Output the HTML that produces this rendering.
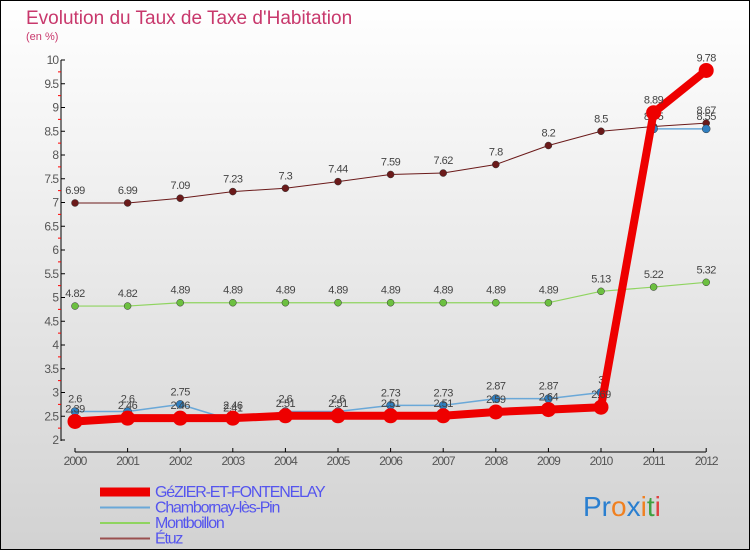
<!DOCTYPE html>
<html><head><meta charset="utf-8"><style>
body{margin:0;}
svg{display:block;font-family:"Liberation Sans",sans-serif;}
</style></head><body>
<svg width="750" height="550" viewBox="0 0 750 550">
<defs><linearGradient id="bg" x1="0" y1="0" x2="0" y2="1"><stop offset="0" stop-color="#ffffff"/><stop offset="1" stop-color="#d2d2d2"/></linearGradient></defs>
<rect x="0.5" y="0.5" width="749" height="549" fill="url(#bg)" stroke="#000"/>
<text x="26" y="24" font-size="19" fill="#c8386c">Evolution du Taux de Taxe d'Habitation</text>
<text x="26" y="40" font-size="11" fill="#c8386c">(en %)</text>
<g id="axes"></g>
<g id="series"></g>
<g id="legend"></g>
<text x="583" y="516" font-size="28"><tspan fill="#2a7fd0">Pr</tspan><tspan fill="#f08020">o</tspan><tspan fill="#2a7fd0">x</tspan><tspan fill="#f08020">i</tspan><tspan fill="#40a040">t</tspan><tspan fill="#e04040">i</tspan></text>
</svg>
<script>
const years=[2000,2001,2002,2003,2004,2005,2006,2007,2008,2009,2010,2011,2012];
const gezier=[2.39,2.46,2.46,2.46,2.51,2.51,2.51,2.51,2.59,2.64,2.69,8.89,9.78];
const chambornay=[2.6,2.6,2.75,2.41,2.6,2.6,2.73,2.73,2.87,2.87,3,8.55,8.55];
const montboillon=[4.82,4.82,4.89,4.89,4.89,4.89,4.89,4.89,4.89,4.89,5.13,5.22,5.32];
const etuz=[6.99,6.99,7.09,7.23,7.3,7.44,7.59,7.62,7.8,8.2,8.5,8.6,8.67];
const yTicks=[2,2.5,3,3.5,4,4.5,5,5.5,6,6.5,7,7.5,8,8.5,9,9.5,10];
const names=["GéZIER-ET-FONTENELAY","Chambornay-lès-Pin","Montboillon","Étuz"];
const NS="http://www.w3.org/2000/svg";
const X=i=>75+i*52.6, Y=v=>440-(v-2)*47.5;
function mk(t,a,p){const e=document.createElementNS(NS,t);for(const k in a)e.setAttribute(k,a[k]);p.appendChild(e);return e;}
const ax=document.getElementById('axes');
let l=mk('line',{x1:61,y1:60,x2:61,y2:441,stroke:'#000'},ax);


yTicks.forEach(v=>{
 mk('line',{x1:61,x2:65,y1:Y(v),y2:Y(v),stroke:'#000'},ax);
 if(v<10)mk('line',{x1:58,x2:61,y1:Y(v+0.25),y2:Y(v+0.25),stroke:'#f00'},ax);
 const t=mk('text',{x:58,y:Y(v)+4,'font-size':12,'text-anchor':'end',fill:'#555','letter-spacing':'-1'},ax);
 t.textContent=String(v);
 
 
});
l=mk('line',{x1:75,y1:452,x2:706,y2:452,stroke:'#000'},ax);


years.forEach((y,i)=>{
 mk('line',{x1:X(i),x2:X(i),y1:448,y2:452,stroke:'#000'},ax);
 const t=mk('text',{x:X(i),y:465,'font-size':12,'text-anchor':'middle',fill:'#555','letter-spacing':'-1'},ax);
 t.textContent=String(y);
 
 
});
const sg=document.getElementById('series');
const defs=[[etuz,'#6b1a1a','#6b1a1a',1,3.5,'etuz'],[montboillon,'#8fd460','#6cc040',1.2,3.5,'montboillon'],[chambornay,'#6aa8d8','#2f7fc0',1.5,4,'chambornay'],[gezier,'#ee0000','#ee0000',8,7.5,'gezier']];
defs.forEach(([d,c,dc,w,r,n])=>{
 const g=mk('g',{},sg);
 
 
 const pl=mk('polyline',{points:d.map((v,i)=>X(i)+','+Y(v)).join(' '),fill:'none',stroke:c,'stroke-width':w,'stroke-linejoin':'round'},g);
 
 
 d.forEach((v,i)=>{
  const p=mk('circle',{cx:X(i),cy:Y(v),r:r,fill:dc,stroke:n==='gezier'?'none':'#333','stroke-width':0.5},g);
  
  
  const t=mk('text',{x:X(i),y:Y(v)-9,'font-size':11,'text-anchor':'middle',fill:'#444','letter-spacing':'-0.5'},g);
  t.textContent=String(v);
  
  
 });
});
const lg=document.getElementById('legend');
const lc=[['#ee0000',9],['#6aa8d8',2],['#8fd460',2],['#9a5050',2]];
names.forEach((nm,i)=>{
 const y=492+i*15.5;
 const g=mk('g',{},lg);
 
 
 mk('line',{x1:100,x2:150,y1:y,y2:y,stroke:lc[i][0],'stroke-width':lc[i][1]},g);
 const t=mk('text',{x:155,y:y+5,'font-size':16,fill:'#5555ee','letter-spacing':'-1.2'},g);
 t.textContent=nm;
});
</script>
</body></html>
